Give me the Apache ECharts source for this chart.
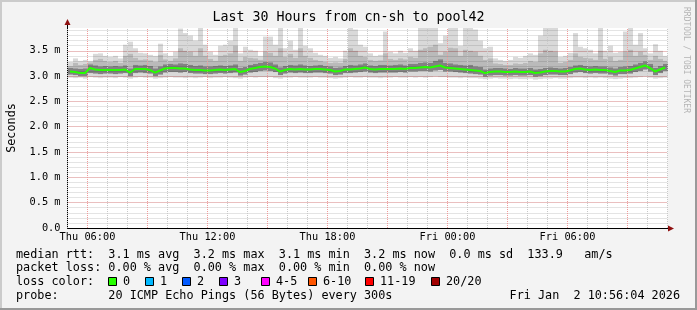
<!DOCTYPE html>
<html>
<head>
<meta charset="utf-8">
<script src="https://cdn.jsdelivr.net/npm/echarts@6/dist/echarts.min.js"></script>
<style>
  html, body { margin: 0; padding: 0; background: #f3f3f3; }
  #main { width: 697px; height: 310px; }
</style>
</head>
<body>
<div id="main"></div>
<script>
// 30 hours, Thu 05:00 -> Fri 11:00, one sample per 15 minutes
var startHour = 5;
var spanHours = 30;
var binHours = 0.25;
var yMax = 3.95;
var xTickLabels = ['Thu 06:00', 'Thu 12:00', 'Thu 18:00', 'Fri 00:00', 'Fri 06:00'];

// median rtt (ms)
var median = [
  3.09, 3.08, 3.06, 3.06, 3.16, 3.13, 3.12, 3.12,
  3.12, 3.12, 3.12, 3.13, 3.07, 3.14, 3.14, 3.14,
  3.12, 3.07, 3.11, 3.15, 3.16, 3.16, 3.15, 3.15,
  3.13, 3.12, 3.12, 3.11, 3.11, 3.12, 3.13, 3.12,
  3.13, 3.14, 3.08, 3.10, 3.14, 3.16, 3.18, 3.19,
  3.18, 3.15, 3.09, 3.12, 3.14, 3.13, 3.14, 3.13,
  3.13, 3.14, 3.14, 3.13, 3.12, 3.09, 3.10, 3.13,
  3.13, 3.14, 3.15, 3.17, 3.14, 3.13, 3.14, 3.14,
  3.14, 3.14, 3.15, 3.14, 3.16, 3.16, 3.17, 3.18,
  3.17, 3.19, 3.21, 3.17, 3.16, 3.15, 3.14, 3.13,
  3.12, 3.11, 3.10, 3.06, 3.08, 3.09, 3.09, 3.08,
  3.08, 3.09, 3.08, 3.08, 3.09, 3.06, 3.07, 3.09,
  3.10, 3.10, 3.09, 3.09, 3.11, 3.14, 3.15, 3.13,
  3.12, 3.13, 3.12, 3.12, 3.10, 3.08, 3.11, 3.11,
  3.12, 3.15, 3.18, 3.21, 3.16, 3.09, 3.13, 3.17
];

// smoke: lowest ping
var pingMin = [
  2.97, 2.96, 2.97, 2.95, 2.98, 2.97, 2.96, 2.97,
  2.97, 2.96, 2.98, 2.97, 2.95, 2.97, 2.98, 2.97,
  2.97, 2.95, 2.96, 2.97, 2.98, 2.97, 2.97, 2.96,
  2.97, 2.96, 2.97, 2.98, 2.96, 2.97, 2.97, 2.98,
  2.97, 2.96, 2.95, 2.97, 2.98, 2.97, 2.98, 2.98,
  2.98, 2.96, 2.95, 2.97, 2.97, 2.98, 2.97, 2.97,
  2.97, 2.98, 2.97, 2.97, 2.96, 2.95, 2.96, 2.97,
  2.98, 2.97, 2.97, 2.98, 2.97, 2.97, 2.96, 2.97,
  2.97, 2.98, 2.97, 2.97, 2.98, 2.97, 2.98, 2.97,
  2.98, 2.99, 2.98, 2.98, 2.97, 2.97, 2.96, 2.97,
  2.96, 2.96, 2.95, 2.94, 2.95, 2.96, 2.95, 2.95,
  2.94, 2.95, 2.94, 2.94, 2.95, 2.93, 2.94, 2.95,
  2.95, 2.96, 2.95, 2.95, 2.96, 2.97, 2.97, 2.96,
  2.97, 2.96, 2.97, 2.96, 2.95, 2.94, 2.95, 2.96,
  2.96, 2.97, 2.98, 2.99, 2.97, 2.95, 2.96, 2.97
];

// smoke: dense core bottom
var pingLo = [
  3.03, 3.02, 3.00, 3.00, 3.06, 3.05, 3.04, 3.05,
  3.05, 3.04, 3.05, 3.06, 3.00, 3.06, 3.07, 3.06,
  3.05, 3.00, 3.03, 3.07, 3.08, 3.08, 3.07, 3.08,
  3.06, 3.05, 3.05, 3.04, 3.04, 3.05, 3.06, 3.05,
  3.06, 3.07, 3.01, 3.03, 3.07, 3.08, 3.10, 3.11,
  3.10, 3.08, 3.02, 3.05, 3.07, 3.06, 3.07, 3.06,
  3.06, 3.07, 3.07, 3.06, 3.05, 3.02, 3.03, 3.06,
  3.06, 3.07, 3.08, 3.09, 3.07, 3.06, 3.07, 3.07,
  3.07, 3.07, 3.08, 3.07, 3.09, 3.09, 3.10, 3.10,
  3.09, 3.11, 3.12, 3.09, 3.09, 3.08, 3.07, 3.06,
  3.05, 3.04, 3.03, 2.99, 3.01, 3.02, 3.02, 3.01,
  3.01, 3.02, 3.01, 3.01, 3.02, 2.99, 3.00, 3.02,
  3.03, 3.03, 3.02, 3.02, 3.04, 3.07, 3.08, 3.06,
  3.05, 3.06, 3.05, 3.05, 3.03, 3.01, 3.04, 3.04,
  3.05, 3.08, 3.10, 3.13, 3.09, 3.02, 3.06, 3.10
];

// smoke: dense core top
var pingHi = [
  3.16, 3.15, 3.14, 3.15, 3.23, 3.21, 3.19, 3.20,
  3.19, 3.20, 3.19, 3.21, 3.15, 3.22, 3.21, 3.22,
  3.20, 3.15, 3.19, 3.23, 3.24, 3.23, 3.25, 3.24,
  3.22, 3.20, 3.21, 3.19, 3.19, 3.20, 3.21, 3.20,
  3.21, 3.23, 3.16, 3.18, 3.22, 3.24, 3.26, 3.28,
  3.27, 3.23, 3.17, 3.20, 3.22, 3.21, 3.23, 3.21,
  3.20, 3.21, 3.22, 3.20, 3.19, 3.16, 3.17, 3.20,
  3.22, 3.21, 3.23, 3.25, 3.21, 3.20, 3.22, 3.22,
  3.21, 3.22, 3.23, 3.21, 3.24, 3.24, 3.26, 3.27,
  3.26, 3.30, 3.33, 3.26, 3.25, 3.23, 3.22, 3.21,
  3.22, 3.19, 3.18, 3.13, 3.15, 3.16, 3.16, 3.15,
  3.14, 3.16, 3.15, 3.15, 3.16, 3.13, 3.14, 3.16,
  3.17, 3.16, 3.15, 3.16, 3.18, 3.21, 3.22, 3.20,
  3.19, 3.20, 3.19, 3.19, 3.17, 3.15, 3.18, 3.19,
  3.20, 3.23, 3.26, 3.29, 3.24, 3.16, 3.20, 3.24
];

// smoke: upper spread
var pingMid = [
  3.20, 3.26, 3.22, 3.24, 3.27, 3.32, 3.34, 3.30,
  3.28, 3.30, 3.26, 3.40, 3.44, 3.36, 3.32, 3.33,
  3.31, 3.28, 3.42, 3.33, 3.30, 3.35, 3.55, 3.50,
  3.48, 3.40, 3.55, 3.40, 3.34, 3.30, 3.40, 3.42,
  3.45, 3.60, 3.30, 3.38, 3.36, 3.35, 3.32, 3.48,
  3.46, 3.40, 3.55, 3.38, 3.44, 3.36, 3.55, 3.40,
  3.36, 3.32, 3.30, 3.28, 3.26, 3.27, 3.26, 3.34,
  3.55, 3.50, 3.40, 3.38, 3.32, 3.30, 3.31, 3.45,
  3.34, 3.32, 3.35, 3.33, 3.38, 3.36, 3.52, 3.55,
  3.58, 3.62, 3.42, 3.48, 3.56, 3.55, 3.40, 3.52,
  3.50, 3.48, 3.40, 3.32, 3.35, 3.25, 3.24, 3.22,
  3.22, 3.25, 3.24, 3.26, 3.30, 3.28, 3.45, 3.52,
  3.50, 3.48, 3.26, 3.28, 3.32, 3.45, 3.38, 3.36,
  3.35, 3.32, 3.50, 3.34, 3.38, 3.30, 3.32, 3.48,
  3.52, 3.40, 3.48, 3.42, 3.32, 3.40, 3.34, 3.30
];

// smoke: highest ping
var pingMax = [
  3.28, 3.35, 3.30, 3.32, 3.30, 3.44, 3.45, 3.40,
  3.38, 3.40, 3.35, 3.62, 3.68, 3.55, 3.46, 3.45,
  3.42, 3.40, 3.64, 3.45, 3.40, 3.48, 3.94, 3.85,
  3.80, 3.70, 3.95, 3.62, 3.48, 3.42, 3.60, 3.62,
  3.70, 3.95, 3.45, 3.58, 3.52, 3.50, 3.40, 3.78,
  3.78, 3.62, 3.95, 3.55, 3.70, 3.52, 3.95, 3.60,
  3.55, 3.46, 3.42, 3.40, 3.36, 3.38, 3.35, 3.50,
  3.95, 3.92, 3.62, 3.58, 3.45, 3.40, 3.42, 3.88,
  3.48, 3.45, 3.50, 3.46, 3.55, 3.50, 3.95, 3.95,
  3.95, 3.95, 3.65, 3.80, 3.95, 3.95, 3.60, 3.95,
  3.95, 3.92, 3.70, 3.55, 3.58, 3.35, 3.32, 3.30,
  3.32, 3.38, 3.36, 3.40, 3.45, 3.42, 3.80, 3.95,
  3.95, 3.95, 3.38, 3.40, 3.46, 3.85, 3.58, 3.55,
  3.52, 3.45, 3.95, 3.50, 3.60, 3.46, 3.48, 3.88,
  3.95, 3.62, 3.85, 3.55, 3.45, 3.63, 3.50, 3.40
];

var lossLabels = ['0', '1', '2', '3', '4-5', '6-10', '11-19', '20/20'];
var lossColors = ['#26ff00', '#00b8ff', '#0059ff', '#7e00ff', '#ff00ff', '#ff5500', '#ff0000', '#a10000'];

var mono = '"DejaVu Sans Mono", "Liberation Mono", monospace';

// hourly categories for the time labels; vertical grid lines every hour,
// the ones on multiples of 3 o'clock drawn red
var days = ['Thu', 'Fri'];
var hourCats = [];
var vLines = [];
for (var h = 0; h <= spanHours; h++) {
  var hh = startHour + h;
  hourCats.push(days[Math.floor(hh / 24)] + ' ' + ('0' + (hh % 24)).slice(-2) + ':00');
  vLines.push({ xAxis: h, lineStyle: { color: hh % 3 === 0 ? '#f09a9a' : '#c8c8c8' } });
}

function band(lower, upper, color) {
  return {
    type: 'custom',
    xAxisIndex: 0,
    yAxisIndex: 1,
    silent: true,
    animation: false,
    z: 2,
    encode: { x: 0, y: [1, 2] },
    data: lower.map(function (v, i) { return [i * binHours, v, upper[i]]; }),
    renderItem: function (params, api) {
      var a = api.coord([api.value(0), api.value(1)]);
      var b = api.coord([api.value(0) + binHours, api.value(2)]);
      var x0 = Math.round(a[0]), x1 = Math.round(b[0]);
      return {
        type: 'rect',
        shape: { x: x0, y: b[1], width: x1 - x0, height: a[1] - b[1] },
        style: { fill: color }
      };
    }
  };
}

var myChart = echarts.init(document.getElementById('main'));

var graphics = [
  { type: 'rect', shape: { x: 0, y: 0, width: 697, height: 2 }, style: { fill: '#cbcbcb' } },
  { type: 'rect', shape: { x: 0, y: 0, width: 2, height: 310 }, style: { fill: '#cbcbcb' } },
  { type: 'rect', shape: { x: 695, y: 0, width: 2, height: 310 }, style: { fill: '#999999' } },
  { type: 'rect', shape: { x: 0, y: 308, width: 697, height: 2 }, style: { fill: '#999999' } },
  // axis extensions + arrows
  { type: 'line', shape: { x1: 67.5, y1: 28, x2: 67.5, y2: 22 }, style: { stroke: '#000', lineWidth: 1 } },
  { type: 'polygon', shape: { points: [[64.5, 25], [70.5, 25], [67.5, 19]] }, style: { fill: '#8f1010' } },
  { type: 'line', shape: { x1: 664, y1: 228.5, x2: 670, y2: 228.5 }, style: { stroke: '#000', lineWidth: 1 } },
  { type: 'polygon', shape: { points: [[668, 225.5], [668, 231.5], [674, 228.5]] }, style: { fill: '#8f1010' } },
  // watermark
  { type: 'text', x: 686, y: 60, rotation: -Math.PI / 2,
    style: { text: 'RRDTOOL / TOBI OETIKER', font: '8px ' + mono, fill: '#b4b4b4', align: 'center', verticalAlign: 'middle' } }
];

function legendText(x, y, s, align) {
  graphics.push({ type: 'text', x: x, y: y,
    style: { text: s, font: '11.8px ' + mono, fill: '#000', align: align || 'left', verticalAlign: 'middle' } });
}
legendText(16, 254.5, 'median rtt:  3.1 ms avg  3.2 ms max  3.1 ms min  3.2 ms now  0.0 ms sd  133.9   am/s');
legendText(16, 268, 'packet loss: 0.00 % avg  0.00 % max  0.00 % min  0.00 % now');
legendText(16, 282, 'loss color:');
legendText(16, 295.5, 'probe:       20 ICMP Echo Pings (56 Bytes) every 300s');
legendText(680, 295.5, 'Fri Jan  2 10:56:04 2026', 'right');

var boxX = [108, 145, 182, 219, 261, 308, 365, 431];
lossLabels.forEach(function (lab, i) {
  graphics.push({ type: 'rect', shape: { x: boxX[i] + 0.5, y: 277.5, width: 8, height: 8 },
    style: { fill: lossColors[i], stroke: '#000', lineWidth: 1 } });
  legendText(boxX[i] + 15, 282, lab);
});

var smokeLight = band(pingMin, pingMax, 'rgba(0,0,0,0.15)');
smokeLight.markLine = {
  silent: true,
  animation: false,
  symbol: ['none', 'none'],
  label: { show: false },
  emphasis: { disabled: true },
  lineStyle: { type: [1, 1], width: 1 },
  data: vLines
};

var option = {
  backgroundColor: '#f3f3f3',
  animation: false,
  title: {
    text: 'Last 30 Hours from cn-sh to pool42',
    left: 'center',
    top: 11,
    padding: 0,
    textStyle: { fontFamily: mono, fontSize: 13.3, fontWeight: 'normal', color: '#000' }
  },
  grid: {
    left: 67.5, top: 28, width: 600, height: 200, outerBoundsMode: 'none', containLabel: false,
    show: true, backgroundColor: '#ffffff', borderWidth: 0
  },
  xAxis: [
    { type: 'value', min: 0, max: spanHours, show: false, position: 'bottom' },
    {
      type: 'category', data: hourCats, boundaryGap: false, position: 'bottom',
      axisLine: { show: true, lineStyle: { color: '#000', width: 1 } },
      axisTick: { show: false },
      splitLine: { show: false },
      axisLabel: {
        interval: function (idx, val) { return xTickLabels.indexOf(val) >= 0; },
        fontFamily: mono, fontSize: 10.3, color: '#000', margin: 4
      }
    }
  ],
  yAxis: [
    {
      type: 'value', min: 0, max: yMax, interval: 0.1, position: 'left',
      axisLine: { show: false }, axisTick: { show: false }, axisLabel: { show: false },
      splitLine: { show: true, showMaxLine: false, lineStyle: { color: '#c8c8c8', type: [1, 1], width: 1 } }
    },
    {
      type: 'value', min: 0, max: yMax, interval: 0.5, position: 'left',
      name: 'Seconds', nameLocation: 'middle', nameGap: 50, nameRotate: 90,
      nameTextStyle: { fontFamily: mono, fontSize: 11.8, color: '#000' },
      axisLine: { show: true, lineStyle: { color: '#000', width: 1 } },
      axisTick: { show: false },
      axisLabel: {
        showMaxLabel: false, margin: 7, fontFamily: mono, fontSize: 10.3, color: '#000',
        formatter: function (v) { return v === 0 ? '0.0' : v.toFixed(1) + ' m'; }
      },
      splitLine: { show: true, showMaxLine: false, showMinLine: false, lineStyle: { color: '#f09a9a', type: [1, 1], width: 1 } }
    }
  ],
  series: [
    smokeLight,
    band(pingLo, pingMid, 'rgba(0,0,0,0.14)'),
    band(pingLo, pingHi, 'rgba(0,0,0,0.30)'),
    {
      type: 'line',
      xAxisIndex: 0,
      yAxisIndex: 1,
      symbol: 'none',
      silent: true,
      data: median.map(function (v, i) { return [(i + 0.5) * binHours, v]; }),
      lineStyle: { color: '#26ff00', width: 2 },
      z: 5
    }
  ],
  graphic: graphics
};

myChart.setOption(option);
</script>
</body>
</html>
